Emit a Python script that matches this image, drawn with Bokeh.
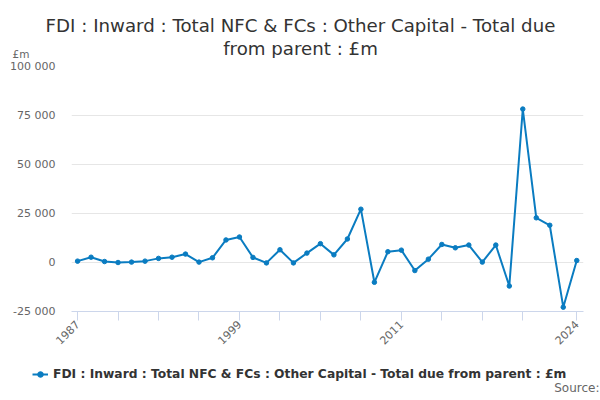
from bokeh.plotting import figure
from bokeh.models import (FixedTicker, Label, Legend, LegendItem, ColumnDataSource, Range1d, Plot)
from bokeh.layouts import column
from bokeh.embed import file_html
from bokeh.resources import INLINE

years = list(range(1987, 2025))
values = [700, 2700, 500, 0, 200, 700, 2100, 2700, 4300, 200,
          2400, 11500, 13000, 2600, -200, 6500, -200, 4800, 9600, 3900,
          12000, 27200, -10100, 5500, 6300, -4100, 1700, 9200, 7500, 8900,
          200, 8900, -12000, 78300, 22800, 19000, -22800, 1000]
series_name = "FDI : Inward : Total NFC & FCs : Other Capital - Total due from parent : £m"
title_lines = ["FDI : Inward : Total NFC & FCs : Other Capital - Total due", "from parent : £m"]
x_ticks = [1987, 1990, 1993, 1996, 1999, 2002, 2005, 2008, 2011, 2014, 2017, 2020, 2024]
x_labeled = [1987, 1999, 2011, 2024]
y_ticks = [-25000, 0, 25000, 50000, 75000, 100000]
y_labels = ["-25 000", "0", "25 000", "50 000", "75 000", "100 000"]
unit_label = "£m"
source_label = "Source:"

FONT = "DejaVu Sans"
BLUE = "#0a7cc1"
W = 600
HAS_FA = "frame_align" in Plot.properties()

def blank(h, y0, y1):
    kw = dict(frame_align=False) if HAS_FA else {}
    f = figure(width=W, height=h, output_backend="svg", toolbar_location=None,
               x_range=Range1d(0, W), y_range=Range1d(y1, y0),
               x_axis_type=None, y_axis_type=None,
               min_border=0, min_border_left=0, min_border_right=0,
               min_border_top=0, min_border_bottom=0, **kw)
    f.outline_line_color = None
    f.background_fill_color = "white"
    f.border_fill_color = "white"
    f.title = None
    return f

src = ColumnDataSource(dict(x=years, y=values))

# ---- header (page y 0..58) ----
top = blank(58, 0, 58)
top.add_layout(Label(x=300, y=25, text=title_lines[0], text_align="center",
                     text_baseline="alphabetic", text_font=FONT, text_font_size="18.2px",
                     text_color="#333333"))
top.add_layout(Label(x=300, y=48, text=title_lines[1], text_align="center",
                     text_baseline="alphabetic", text_font=FONT, text_font_size="18.2px",
                     text_color="#333333"))
top.add_layout(Label(x=12, y=53, text=unit_label, text_align="left",
                     text_baseline="middle", text_font=FONT, text_font_size="10.5px",
                     text_color="#666666"))

# ---- main chart (page y 58..352), frame page y 66..311 ----
pkw = dict(frame_align=False) if HAS_FA else {}
p = figure(width=W, height=294, output_backend="svg", toolbar_location=None,
           x_range=Range1d(1986.55, 2024.5), y_range=Range1d(-25000, 100000),
           min_border_left=71, min_border_right=17, min_border_top=8, min_border_bottom=41, **pkw)
p.outline_line_color = None
p.background_fill_color = "white"
p.border_fill_color = "white"
p.title = None

p.line("x", "y", source=src, line_color=BLUE, line_width=2)
p.scatter("x", "y", source=src, size=4.5, fill_color=BLUE, line_color=BLUE)

xa = p.xaxis[0]
xa.ticker = FixedTicker(ticks=x_ticks)
xa.major_label_overrides = {t: (str(t) if t in x_labeled else "") for t in x_ticks}
xa.axis_line_color = "#ccd6eb"
xa.major_tick_line_color = "#ccd6eb"
xa.major_tick_out = 9
xa.major_tick_in = 0
xa.minor_tick_line_color = None
xa.major_label_orientation = 0.785398
xa.major_label_text_font = FONT
xa.major_label_text_font_size = "11px"
xa.major_label_text_color = "#666666"
xa.major_label_standoff = 2

ya = p.yaxis[0]
ya.ticker = FixedTicker(ticks=y_ticks)
ya.major_label_overrides = {t: l for t, l in zip(y_ticks, y_labels)}
ya.axis_line_color = None
ya.major_tick_line_color = None
ya.minor_tick_line_color = None
ya.major_tick_out = 0
ya.major_label_standoff = 16
ya.major_label_text_font = FONT
ya.major_label_text_font_size = "11px"
ya.major_label_text_color = "#666666"

p.xgrid.grid_line_color = None
p.ygrid.grid_line_color = "#e6e6e6"
p.ygrid.ticker = FixedTicker(ticks=y_ticks)

# ---- footer (page y 352..400): legend + source ----
bot = blank(48, 352, 400)
# series drawn here only to supply the legend key (outside this strip's ranges)
kl = bot.line("x", "y", source=src, line_color=BLUE, line_width=2)
ks = bot.scatter("x", "y", source=src, size=4.5, fill_color=BLUE, line_color=BLUE)
legend = Legend(items=[LegendItem(label=series_name, renderers=[kl, ks])],
                location=(32, 19), orientation="horizontal",
                padding=0, margin=0, spacing=0,
                border_line_color=None, background_fill_alpha=0,
                glyph_width=16, glyph_height=14, label_height=14, label_standoff=5,
                label_text_font=FONT, label_text_font_size="12.3px",
                label_text_font_style="bold", label_text_color="#333333")
bot.add_layout(legend, "center")
bot.add_layout(Label(x=599, y=387, text=source_label, text_align="right",
                     text_baseline="middle", text_font=FONT, text_font_size="12px",
                     text_color="#666666"))

layout = column(top, p, bot, spacing=0)
open("out.html", "w").write(file_html(layout, INLINE))
